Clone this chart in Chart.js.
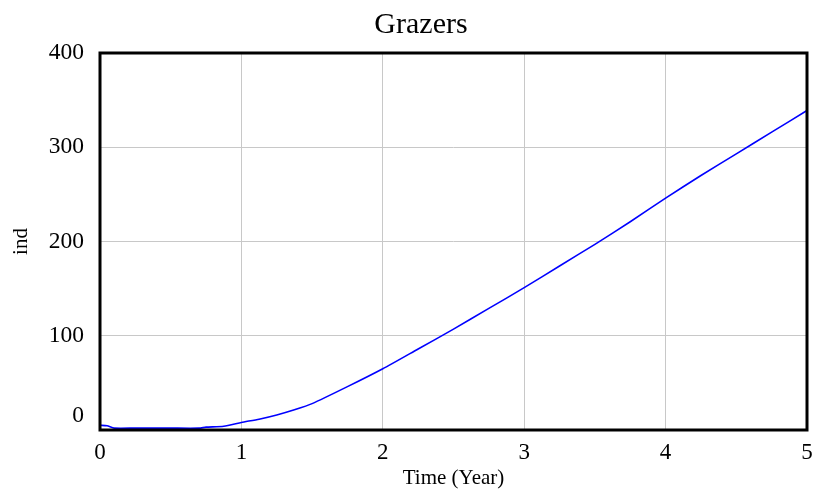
<!DOCTYPE html>
<html>
<head>
<meta charset="utf-8">
<script src="https://cdn.jsdelivr.net/npm/chart.js@4.4.1/dist/chart.umd.min.js"></script>
<style>
  html, body { margin: 0; padding: 0; background: #fff; }
  #wrap { width: 816px; height: 495px; }
</style>
</head>
<body>
<div id="wrap"><canvas id="grazers-chart" width="816" height="495"></canvas></div>
<script>
const timeYears = [0, 0.05, 0.1, 0.25, 0.5, 0.7, 0.75, 0.875, 1, 1.125, 1.25, 1.375, 1.5, 1.75, 2, 2.25, 2.5, 2.75, 3, 3.25, 3.5, 3.75, 4, 4.25, 4.5, 4.75, 5];
const grazers   = [5, 4.5, 2, 2, 2, 2, 3, 4, 8, 11.5, 16, 21.5, 28, 46, 65, 86, 107, 129, 151, 174, 197, 221, 246, 270, 293, 316, 339];
const yTicks = [0, 100, 200, 300, 400];
const xTicks = [0, 1, 2, 3, 4, 5];

const serif = "'Liberation Serif', 'Times New Roman', serif";

// frame, title and y labels (bottom label nudged up like the original)
const decorations = {
  id: 'decorations',
  afterDraw(chart) {
    const { ctx, chartArea } = chart;
    const y = chart.scales.y;
    ctx.save();
    ctx.strokeStyle = '#000';
    ctx.lineWidth = 3;
    ctx.strokeRect(chartArea.left, chartArea.top, chartArea.right - chartArea.left, chartArea.bottom - chartArea.top);

    ctx.fillStyle = '#000';
    ctx.font = '23.5px ' + serif;
    ctx.textAlign = 'right';
    ctx.textBaseline = 'middle';
    yTicks.forEach(v => {
      let py = y.getPixelForValue(v);
      if (v === 0) py -= 14;
      ctx.fillText(String(v), 84, py);
    });

    ctx.font = '30px ' + serif;
    ctx.textAlign = 'center';
    ctx.textBaseline = 'alphabetic';
    ctx.fillText('Grazers', 421, 33);
    ctx.restore();
  }
};

new Chart(document.getElementById('grazers-chart'), {
  type: 'line',
  data: {
    datasets: [{
      data: timeYears.map((t, i) => ({ x: t, y: grazers[i] })),
      borderColor: '#0000ff',
      borderWidth: 1.6,
      pointRadius: 0,
      tension: 0.2,
      fill: false
    }]
  },
  options: {
    responsive: false,
    animation: false,
    layout: { padding: { top: 53, right: 9, left: 0, bottom: 0 } },
    plugins: { legend: { display: false }, tooltip: { enabled: false } },
    scales: {
      x: {
        type: 'linear',
        min: 0,
        max: 5,
        afterBuildTicks: s => { s.ticks = xTicks.map(v => ({ value: v })); },
        afterFit: s => { s.height = 65; s.paddingLeft = 0; s.paddingRight = 0; },
        grid: { color: '#c8c8c8', lineWidth: 1, drawTicks: false },
        border: { display: false },
        ticks: { color: '#000', font: { family: serif, size: 23 }, padding: 9, maxRotation: 0 },
        title: { display: true, text: 'Time (Year)', color: '#000', font: { family: serif, size: 21 }, padding: { top: 0, bottom: 4 } }
      },
      y: {
        min: 0,
        max: 400,
        afterBuildTicks: s => { s.ticks = yTicks.map(v => ({ value: v })); },
        afterFit: s => { s.width = 100; s.paddingTop = 0; s.paddingBottom = 0; },
        grid: { color: '#c8c8c8', lineWidth: 1, drawTicks: false },
        border: { display: false },
        ticks: { display: false },
        title: { display: true, text: 'ind', color: '#000', font: { family: serif, size: 21 }, padding: { top: 9, bottom: 0 } }
      }
    }
  },
  plugins: [decorations]
});
</script>
</body>
</html>
